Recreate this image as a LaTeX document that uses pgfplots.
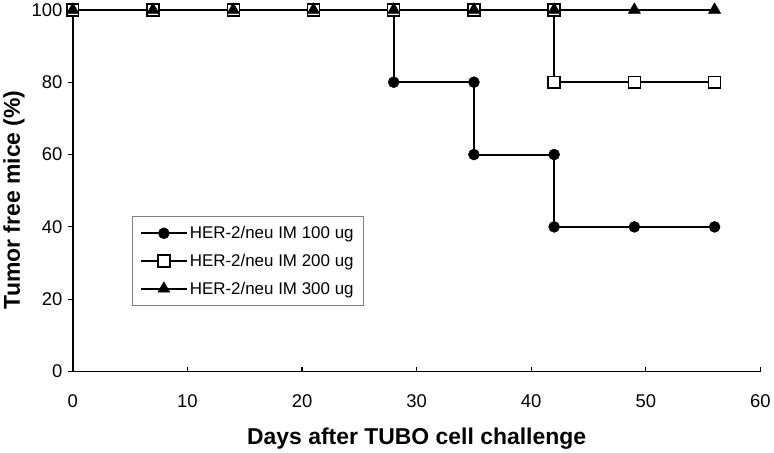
\documentclass[border=0pt]{standalone}
\usepackage{fontspec}
\setmainfont{Liberation Sans}
\usepackage{pgfplots}
\pgfplotsset{compat=1.18}

\begin{document}
\begin{tikzpicture}
\begin{axis}[
  width=690pt, height=363pt, scale only axis,
  xmin=0, xmax=60, ymin=0, ymax=100,
  xtick={0,10,...,60}, ytick={0,20,...,100},
  axis lines=left, axis line style={-, line width=1.6pt},
  tick align=inside, major tick length=5pt,
  tick style={black, line width=1.2pt},
  ytick style={xshift=-5pt},
  /pgf/number format/assume math mode=true,
  tick label style={font=\fontsize{18.5}{18.5}\selectfont},
  xticklabel style={yshift=-20pt},
  yticklabel style={xshift=-7pt},
  xlabel={Days after TUBO cell challenge},
  ylabel={Tumor free mice (\%)},
  label style={font=\fontsize{23}{23}\selectfont\bfseries},
  xlabel style={yshift=-13pt},
  ylabel style={at={(ticklabel cs:0.475)}},
  clip=false,
  legend style={at={(rel axis cs:0.0855,0.43)}, anchor=north west,
    draw=gray, line width=0.8pt, fill=white,
    font=\fontsize{17}{17}\selectfont, row sep=10pt,
    inner xsep=8pt, inner ysep=8pt},
  legend cell align=left,
  legend image code/.code={
    \draw[mark repeat=2, mark phase=2, #1] plot coordinates {(0pt,0pt) (23pt,0pt) (46pt,0pt)};
  },
]
% 100 ug
\addplot[black, line width=2pt, mark=*, mark size=5.5pt, mark options={line width=0.5pt}]
  coordinates {(0,100)(7,100)(14,100)(21,100)(28,100)(28,80)(35,80)(35,60)(42,60)(42,40)(49,40)(56,40)};
% 200 ug
\addplot[black, line width=2pt, mark=square*, mark size=6pt, mark options={fill=white, line width=1.4pt}]
  coordinates {(0,100)(7,100)(14,100)(21,100)(28,100)(35,100)(42,100)(42,80)(49,80)(56,80)};
% 300 ug
\addplot[black, line width=2pt, mark=triangle*, mark size=7pt, mark options={line width=0.5pt}]
  coordinates {(0,100)(7,100)(14,100)(21,100)(28,100)(35,100)(42,100)(49,100)(56,100)};
\legend{HER-2/neu IM 100 ug, HER-2/neu IM 200 ug, HER-2/neu IM 300 ug}
\end{axis}
\end{tikzpicture}
\end{document}
